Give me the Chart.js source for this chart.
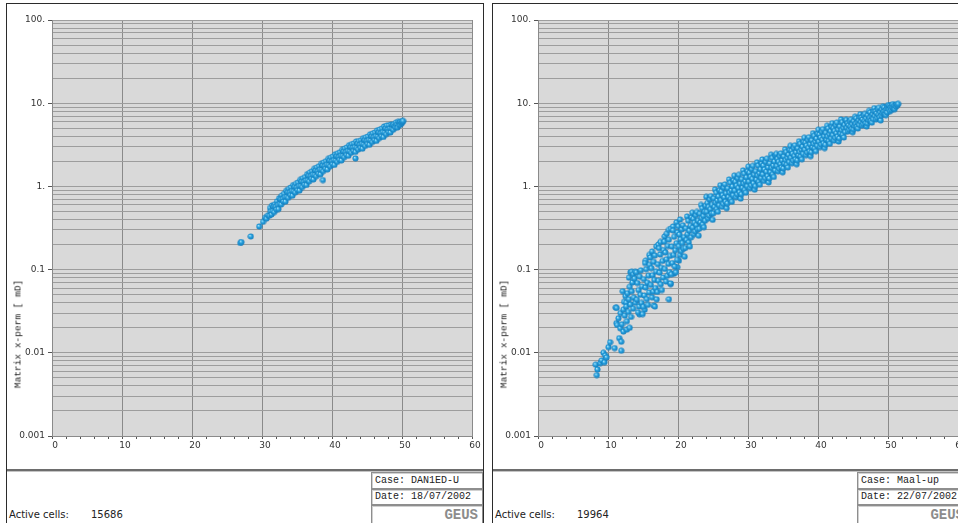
<!DOCTYPE html>
<html><head><meta charset="utf-8">
<script src="https://cdn.jsdelivr.net/npm/chart.js@4.4.0/dist/chart.umd.min.js"></script>
<style>
html,body{margin:0;padding:0;width:958px;height:523px;overflow:hidden;background:#fff;}
.frame{position:absolute;border:1px solid #2b2b2b;box-sizing:border-box;}
.sep{position:absolute;height:2px;background:#6d6d6d;border-bottom:1px solid #c4c4c4;}
.box{position:absolute;box-sizing:border-box;border:1px solid #8e8e8e;box-shadow:inset 1px 1px 0 #d0d0d0;background:#fff;font-family:"Liberation Mono","DejaVu Sans Mono",monospace;font-size:10px;color:#222;white-space:pre;padding-left:3px;}
.geus{position:absolute;right:4px;top:1px;font-family:"Liberation Mono",monospace;font-weight:bold;font-size:14px;line-height:16px;color:#8c8c8c;}
.ytitle{position:absolute;font-family:"Liberation Mono",monospace;font-size:9.5px;color:#222;white-space:pre;transform:translate(-50%,-50%) rotate(-90deg);}
.cells{position:absolute;font-family:"DejaVu Sans",sans-serif;font-size:10px;color:#222;white-space:pre;}
canvas{position:absolute;}
</style></head><body>
<script>
// ---------- data ----------
const xTickLabels = ['0','10','20','30','40','50','60'];
const yDecades = [0.001, 0.01, 0.1, 1, 10, 100];
const yTickLabels = ['0.001', '0.01', '0.1', '1.', '10.', '100.'];
const yAxisTitle = 'Matrix x-perm [ mD]';
const caseNames = ['Case: DAN1ED-U', 'Case: Maal-up'];
const caseDates = ['Date: 18/07/2002', 'Date: 22/07/2002'];
const activeCells = ['15686', '19964'];

const leftPoints = [
[26.9,0.209],[27.05,0.214],[28.4,0.25],[29.6,0.33],[30.15,0.375],[30.45,0.42],[30.65,0.41],[30.85,0.45],
[31.05,0.445],[31.15,0.551],[31.25,0.501],[31.35,0.46],[31.45,0.59],[31.55,0.507],[31.65,0.575],[31.75,0.491],[31.85,0.61],[31.95,0.572],
[32.05,0.53],[32.15,0.66],[32.25,0.6],[32.35,0.535],[32.45,0.72],[32.55,0.615],[32.65,0.705],[32.75,0.607],[32.85,0.777],[32.95,0.71],
[33.05,0.659],[33.15,0.816],[33.25,0.742],[33.35,0.657],[33.45,0.883],[33.55,0.75],[33.65,0.853],[33.75,0.73],[33.85,0.933],[33.95,0.85],
[34.05,0.788],[34.15,0.971],[34.25,0.879],[34.35,0.774],[34.45,1.037],[34.55,0.877],[34.65,0.991],[34.75,0.844],[34.85,1.074],[34.95,0.973],
[35.05,0.899],[35.15,1.112],[35.25,1.008],[35.35,0.891],[35.45,1.196],[35.55,1.014],[35.65,1.148],[35.75,0.981],[35.85,1.252],[35.95,1.137],
[36.05,1.048],[36.15,1.297],[36.25,1.177],[36.35,1.041],[36.45,1.4],[36.55,1.188],[36.65,1.346],[36.75,1.151],[36.85,1.469],[36.95,1.335],
[37.05,1.232],[37.15,1.52],[37.25,1.376],[37.35,1.214],[37.45,1.626],[37.55,1.376],[37.65,1.555],[37.75,1.326],[37.85,1.687],[37.95,1.528],
[38.05,1.418],[38.15,1.749],[38.25,1.583],[38.35,1.396],[38.45,1.871],[38.55,1.583],[38.65,1.789],[38.75,1.526],[38.85,1.941],[38.95,1.758],[38.7,1.19],
[39.05,1.629],[39.15,2.009],[39.25,1.817],[39.35,1.601],[39.45,2.142],[39.55,1.812],[39.65,2.045],[39.75,1.742],[39.85,2.215],[39.95,2.006],
[40.05,1.851],[40.15,2.28],[40.25,2.06],[40.35,1.814],[40.45,2.427],[40.55,2.05],[40.65,2.312],[40.75,1.968],[40.85,2.501],[40.95,2.261],
[41.05,2.084],[41.15,2.572],[41.25,2.328],[41.35,2.053],[41.45,2.751],[41.55,2.328],[41.65,2.63],[41.75,2.243],[41.85,2.854],[41.95,2.587],
[42.05,2.387],[42.15,2.941],[42.25,2.657],[42.35,2.339],[42.45,3.128],[42.55,2.642],[42.65,2.98],[42.75,2.536],[42.85,3.223],[42.95,2.915],
[43.05,2.679],[43.15,3.288],[43.25,2.96],[43.35,2.596],[43.45,3.459],[43.55,2.911],[43.65,3.271],[43.75,2.774],[43.85,3.511],[43.95,3.163],[43.35,2.17],
[44.05,2.914],[44.15,3.584],[44.25,3.234],[44.35,2.843],[44.45,3.797],[44.55,3.204],[44.65,3.608],[44.75,3.066],[44.85,3.891],[44.95,3.514],
[45.05,3.237],[45.15,3.984],[45.25,3.595],[45.35,3.162],[45.45,4.224],[45.55,3.564],[45.65,4.016],[45.75,3.414],[45.85,4.332],[45.95,3.915],
[46.05,3.607],[46.15,4.44],[46.25,4.007],[46.35,3.524],[46.45,4.708],[46.55,3.972],[46.65,4.476],[46.75,3.805],[46.85,4.83],[46.95,4.363],
[47.05,4.023],[47.15,4.952],[47.25,4.469],[47.35,3.93],[47.45,5.251],[47.55,4.431],[47.65,4.993],[47.75,4.244],[47.85,5.387],[47.95,4.867],
[48.05,4.5],[48.15,5.4],[48.25,4.95],[48.35,4.45],[48.45,5.55],[48.55,4.95],[48.65,5.45],[48.75,4.8],[48.85,5.6],[48.95,5.3],
[49.05,5.15],[49.15,5.85],[49.25,5.5],[49.35,5.1],[49.45,5.95],[49.55,5.45],[49.65,5.9],[49.75,5.5],[49.85,6.0],[49.95,5.75],[50.0,5.85],[50.05,6.05],[50.15,6.13]
];

const rightPoints = [
[8.25,0.0072],[8.4,0.0054],[8.5,0.0063],[8.9,0.0075],[9.1,0.0081],[9.35,0.01],[9.5,0.0077],[9.6,0.0093],[9.8,0.0088],[10.07,0.0117],[10.3,0.0134],[10.95,0.0114],
[11.1,0.035],[11.2,0.0227],[11.25,0.0346],[11.3,0.0216],[11.5,0.026],[11.6,0.015],[11.75,0.0197],[11.8,0.03],[11.9,0.0106],[11.9,0.0136],[12.0,0.022],[12.1,0.055],
[12.2,0.033],[12.2,0.018],[12.3,0.041],[12.4,0.028],[12.5,0.048],[12.6,0.04],[12.6,0.036],[12.7,0.019],[12.7,0.024],[12.8,0.052],[12.9,0.031],[13.0,0.044],[13.0,0.08],
[13.1,0.02],[13.1,0.062],[13.2,0.093],[13.2,0.038],[13.3,0.027],[13.4,0.055],[13.4,0.094],[13.5,0.07],[13.6,0.034],[13.6,0.088],[13.7,0.046],[13.8,0.078],[13.9,0.04],[13.9,0.094],
[14.5,0.029],[15.25,0.033],[16.55,0.037],[16.7,0.036],[18.7,0.044],[18.95,0.067],[19.4,0.089],[19.9,0.107],[20.14,0.128],
[15.4,0.128],[15.9,0.15],[16.3,0.165],[16.9,0.19],[17.2,0.2],[17.5,0.215],[18.1,0.25],[18.4,0.27],[18.7,0.3],[19.0,0.31],[19.3,0.33],[19.8,0.37],[20.3,0.4],
[14.04,0.093],[14.12,0.0435],[14.2,0.0689],[14.29,0.0307],[14.37,0.0567],[14.45,0.036],[14.54,0.0822],[14.62,0.0498],[14.7,0.098],[14.79,0.0398],[14.87,0.0625],[14.95,0.0292],
[15.04,0.0358],[15.12,0.0767],[15.2,0.0488],[15.29,0.12],[15.37,0.0611],[15.45,0.101],[15.54,0.0442],[15.62,0.0696],[15.7,0.0377],[15.79,0.0845],[15.87,0.0533],[15.95,0.114],
[16.04,0.14],[16.12,0.0656],[16.2,0.104],[16.29,0.0464],[16.37,0.0856],[16.45,0.0544],[16.54,0.124],[16.62,0.0752],[16.7,0.148],[16.79,0.06],[16.87,0.0944],[16.95,0.044],
[17.04,0.0539],[17.12,0.116],[17.2,0.0735],[17.29,0.181],[17.37,0.0921],[17.45,0.152],[17.54,0.0666],[17.62,0.105],[17.7,0.0568],[17.79,0.127],[17.87,0.0804],[17.95,0.172],
[18.04,0.217],[18.12,0.102],[18.2,0.161],[18.29,0.0719],[18.37,0.133],[18.45,0.0843],[18.54,0.192],[18.62,0.117],[18.7,0.229],[18.79,0.093],[18.87,0.146],[18.95,0.0682],
[19.04,0.088],[19.12,0.189],[19.2,0.12],[19.29,0.296],[19.37,0.15],[19.45,0.248],[19.54,0.109],[19.62,0.171],[19.7,0.0928],[19.79,0.208],[19.87,0.131],[19.95,0.28],
[20.04,0.332],[20.12,0.191],[20.2,0.264],[20.29,0.15],[20.37,0.231],[20.45,0.167],[20.54,0.304],[20.62,0.209],[20.7,0.341],[20.79,0.178],[20.87,0.246],[20.95,0.143],
[21.04,0.182],[21.12,0.314],[21.2,0.227],[21.29,0.434],[21.37,0.266],[21.45,0.386],[21.54,0.213],[21.62,0.294],[21.7,0.19],[21.79,0.336],[21.87,0.244],[21.95,0.423],
[22.04,0.483],[22.12,0.32],[22.2,0.408],[22.29,0.266],[22.37,0.366],[22.45,0.288],[22.54,0.451],[22.62,0.344],[22.7,0.493],[22.79,0.305],[22.87,0.387],[22.95,0.256],
[23.04,0.31],[23.12,0.469],[23.2,0.37],[23.29,0.598],[23.37,0.417],[23.45,0.546],[23.54,0.348],[23.62,0.443],[23.7,0.323],[23.79,0.495],[23.87,0.387],[23.95,0.585],
[24.04,0.748],[24.12,0.495],[24.2,0.633],[24.29,0.413],[24.37,0.567],[24.45,0.446],[24.54,0.699],[24.62,0.534],[24.7,0.765],[24.79,0.473],[24.87,0.6],[24.95,0.396],
[25.04,0.475],[25.12,0.719],[25.2,0.568],[25.29,0.917],[25.37,0.64],[25.45,0.838],[25.54,0.535],[25.62,0.68],[25.7,0.495],[25.79,0.759],[25.87,0.594],[25.95,0.898],
[26.04,1.034],[26.12,0.684],[26.2,0.874],[26.29,0.57],[26.37,0.783],[26.45,0.616],[26.54,0.965],[26.62,0.737],[26.7,1.056],[26.79,0.654],[26.87,0.828],[26.95,0.547],
[27.04,0.626],[27.12,0.948],[27.2,0.748],[27.29,1.209],[27.37,0.844],[27.45,1.105],[27.54,0.705],[27.62,0.896],[27.7,0.653],[27.79,1.0],[27.87,0.783],[27.95,1.183],
[28.04,1.346],[28.12,0.891],[28.2,1.139],[28.29,0.743],[28.37,1.02],[28.45,0.802],[28.54,1.257],[28.62,0.96],[28.7,1.376],[28.79,0.851],[28.87,1.079],[28.95,0.713],
[29.04,0.806],[29.12,1.221],[29.2,0.963],[29.29,1.557],[29.37,1.086],[29.45,1.422],[29.54,0.907],[29.62,1.154],[29.7,0.84],[29.79,1.288],[29.87,1.008],[29.95,1.523],
[30.04,1.727],[30.12,1.143],[30.2,1.461],[30.29,0.953],[30.37,1.308],[30.45,1.029],[30.54,1.613],[30.62,1.232],[30.7,1.765],[30.79,1.092],[30.87,1.384],[30.95,0.914],
[31.04,1.008],[31.12,1.526],[31.2,1.204],[31.29,1.946],[31.37,1.358],[31.45,1.778],[31.54,1.134],[31.62,1.442],[31.7,1.05],[31.79,1.61],[31.87,1.26],[31.95,1.904],
[32.04,2.108],[32.12,1.395],[32.2,1.783],[32.29,1.163],[32.37,1.597],[32.45,1.256],[32.54,1.969],[32.62,1.504],[32.7,2.155],[32.79,1.333],[32.87,1.69],[32.95,1.116],
[33.04,1.246],[33.12,1.886],[33.2,1.488],[33.29,2.405],[33.37,1.678],[33.45,2.197],[33.54,1.401],[33.62,1.782],[33.7,1.298],[33.79,1.99],[33.87,1.557],[33.95,2.353],
[34.04,2.458],[34.12,1.766],[34.2,2.15],[34.29,1.517],[34.37,1.978],[34.45,1.632],[34.54,2.323],[34.62,1.862],[34.7,2.496],[34.79,1.69],[34.87,2.054],[34.95,1.478],
[35.04,1.648],[35.12,2.29],[35.2,1.883],[35.29,2.782],[35.37,2.076],[35.45,2.589],[35.54,1.819],[35.62,2.204],[35.7,1.691],[35.79,2.397],[35.87,1.969],[35.95,2.739],
[36.04,3.072],[36.12,2.208],[36.2,2.688],[36.29,1.896],[36.37,2.472],[36.45,2.04],[36.54,2.904],[36.62,2.328],[36.7,3.12],[36.79,2.112],[36.87,2.568],[36.95,1.848],
[37.04,2.064],[37.12,2.868],[37.2,2.358],[37.29,3.484],[37.37,2.6],[37.45,3.243],[37.54,2.278],[37.62,2.76],[37.7,2.117],[37.79,3.002],[37.87,2.466],[37.95,3.43],
[38.04,3.84],[38.12,2.76],[38.2,3.36],[38.29,2.37],[38.37,3.09],[38.45,2.55],[38.54,3.63],[38.62,2.91],[38.7,3.9],[38.79,2.64],[38.87,3.21],[38.95,2.31],
[39.04,2.58],[39.12,3.585],[39.2,2.948],[39.29,4.355],[39.37,3.25],[39.45,4.054],[39.54,2.848],[39.62,3.451],[39.7,2.647],[39.79,3.752],[39.87,3.082],[39.95,4.288],
[40.04,4.8],[40.12,3.45],[40.2,4.2],[40.29,2.963],[40.37,3.863],[40.45,3.188],[40.54,4.538],[40.62,3.638],[40.7,4.875],[40.79,3.3],[40.87,4.013],[40.95,2.888],
[41.04,3.172],[41.12,4.408],[41.2,3.626],[41.29,5.356],[41.37,3.996],[41.45,4.985],[41.54,3.502],[41.62,4.244],[41.7,3.255],[41.79,4.614],[41.87,3.79],[41.95,5.274],
[42.04,5.76],[42.12,4.14],[42.2,5.04],[42.29,3.555],[42.37,4.635],[42.45,3.825],[42.54,5.445],[42.62,4.365],[42.7,5.85],[42.79,3.96],[42.87,4.815],[42.95,3.465],
[43.04,3.773],[43.12,5.243],[43.2,4.312],[43.29,6.37],[43.37,4.753],[43.45,5.929],[43.54,4.165],[43.62,5.047],[43.7,3.871],[43.79,5.488],[43.87,4.508],[43.95,6.272],
[44.04,6.289],[44.12,5.064],[44.2,5.756],[44.29,4.584],[44.37,5.437],[44.45,4.797],[44.54,6.076],[44.62,5.223],[44.7,6.343],[44.79,4.904],[44.87,5.597],[44.95,4.477],
[45.04,4.855],[45.12,6.069],[45.2,5.318],[45.29,6.878],[45.37,5.664],[45.45,6.589],[45.54,5.202],[45.62,5.896],[45.7,4.971],[45.79,6.242],[45.87,5.491],[45.95,6.82],
[46.04,7.375],[46.12,5.938],[46.2,6.75],[46.29,5.375],[46.37,6.375],[46.45,5.625],[46.54,7.125],[46.62,6.125],[46.7,7.438],[46.79,5.75],[46.87,6.563],[46.95,5.25],
[47.04,5.712],[47.12,7.14],[47.2,6.256],[47.29,8.092],[47.37,6.664],[47.45,7.752],[47.54,6.12],[47.62,6.936],[47.7,5.848],[47.79,7.344],[47.87,6.46],[47.95,8.024],
[48.04,8.732],[48.12,7.03],[48.2,7.992],[48.29,6.364],[48.37,7.548],[48.45,6.66],[48.54,8.436],[48.62,7.252],[48.7,8.806],[48.79,6.808],[48.87,7.77],[48.95,6.216],
[49.04,7.084],[49.12,8.372],[49.2,7.567],[49.29,9.177],[49.37,7.97],[49.45,8.855],[49.54,7.406],[49.62,8.131],[49.7,7.165],[49.79,8.533],[49.87,7.728],[49.95,9.097],
[50.04,9.5],[50.12,8.45],[50.2,9.3],[50.29,8.0],[50.37,8.9],[50.45,8.3],[50.54,9.5],[50.62,8.8],[50.7,9.75],[50.79,8.6],[50.87,9.3],[50.95,8.5],
[51.05,9.4],[51.15,9.1],[51.25,9.7],[51.35,9.5],[51.45,9.8]
];

// ---------- helpers ----------
const yGrid = [];
for (let d = 0; d < yDecades.length - 1; d++) {
  for (let k = 1; k <= 9; k++) yGrid.push(+(k * yDecades[d]).toPrecision(6));
}
yGrid.push(yDecades[yDecades.length - 1]);

function decadeIndex(v) {
  for (let i = 0; i < yDecades.length; i++) {
    if (Math.abs(v - yDecades[i]) < yDecades[i] * 1e-6) return i;
  }
  return -1;
}

// sphere marker
const sphere = document.createElement('canvas');
sphere.width = 7; sphere.height = 7;
(function () {
  const g = sphere.getContext('2d');
  const grd = g.createRadialGradient(2.6, 2.6, 0.2, 3.5, 3.5, 3.3);
  grd.addColorStop(0, '#a6e2fa');
  grd.addColorStop(0.4, '#2aa3e0');
  grd.addColorStop(1, '#0e76b6');
  g.fillStyle = grd;
  g.beginPath(); g.arc(3.5, 3.5, 3.0, 0, Math.PI * 2); g.fill();
})();

const bgPlugin = {
  id: 'plotbg',
  beforeDraw(chart) {
    const a = chart.chartArea, c = chart.ctx;
    c.save(); c.fillStyle = '#d9d9d9';
    c.fillRect(a.left, a.top, a.right - a.left, a.bottom - a.top);
    c.restore();
  }
};

const tickFont = { family: 'DejaVu Sans', size: 9 };

function buildPanel(off, pts, idx) {
  const frame = document.createElement('div');
  frame.className = 'frame';
  Object.assign(frame.style, { left: (6 + off) + 'px', top: '3px', width: '478px', height: '540px' });
  document.body.appendChild(frame);

  const cv = document.createElement('canvas');
  cv.width = 478; cv.height = 467;
  Object.assign(cv.style, { left: (6 + off) + 'px', top: '3px', width: '478px', height: '467px' });
  document.body.appendChild(cv);

  const sep = document.createElement('div');
  sep.className = 'sep';
  Object.assign(sep.style, { left: (7 + off) + 'px', top: '469px', width: '476px' });
  document.body.appendChild(sep);

  const c1 = document.createElement('div');
  c1.className = 'box';
  Object.assign(c1.style, { left: (371 + off) + 'px', top: '472px', width: '112px', height: '17px', lineHeight: '15px' });
  c1.textContent = caseNames[idx];
  document.body.appendChild(c1);

  const c2 = document.createElement('div');
  c2.className = 'box';
  Object.assign(c2.style, { left: (371 + off) + 'px', top: '489px', width: '112px', height: '16px', lineHeight: '14px' });
  c2.textContent = caseDates[idx];
  document.body.appendChild(c2);

  const c3 = document.createElement('div');
  c3.className = 'box';
  Object.assign(c3.style, { left: (371 + off) + 'px', top: '505px', width: '112px', height: '30px' });
  const g = document.createElement('div');
  g.className = 'geus'; g.textContent = 'GEUS';
  c3.appendChild(g);
  document.body.appendChild(c3);

  const yt = document.createElement('div');
  yt.className = 'ytitle';
  Object.assign(yt.style, { left: (17.5 + off) + 'px', top: '334px' });
  yt.textContent = yAxisTitle;
  document.body.appendChild(yt);

  const ac = document.createElement('div');
  ac.className = 'cells';
  Object.assign(ac.style, { left: (9 + off) + 'px', top: '509px' });
  ac.textContent = 'Active cells:';
  document.body.appendChild(ac);
  const an = document.createElement('div');
  an.className = 'cells';
  Object.assign(an.style, { left: (91 + off) + 'px', top: '509px' });
  an.textContent = activeCells[idx];
  document.body.appendChild(an);

  new Chart(cv.getContext('2d'), {
    type: 'scatter',
    data: {
      datasets: [{
        data: pts.map(p => ({ x: p[0], y: p[1] })),
        pointStyle: sphere,
        pointRadius: 3,
        pointHoverRadius: 3
      }]
    },
    options: {
      responsive: false,
      animation: false,
      events: [],
      layout: { padding: { top: 17, right: 12, left: 0, bottom: 0 } },
      plugins: { legend: { display: false }, tooltip: { enabled: false } },
      scales: {
        x: {
          type: 'linear', min: 0, max: 60,
          afterFit: s => { s.height = 34; },
          ticks: {
            stepSize: 2, autoSkip: false, maxRotation: 0,
            callback: v => (v % 10 === 0 ? xTickLabels[v / 10] : ''),
            font: tickFont, color: '#333', padding: 1, labelOffset: 3
          },
          grid: {
            color: c => (c.tick && c.tick.value % 10 === 0 ? '#8a8a8a' : 'rgba(0,0,0,0)'),
            tickColor: '#555', tickLength: 3, lineWidth: 1
          },
          border: { color: '#8a8a8a' }
        },
        y: {
          type: 'logarithmic', min: 0.001, max: 100,
          afterFit: s => { s.width = 46; },
          afterBuildTicks: s => { s.ticks = yGrid.map(v => ({ value: v })); },
          ticks: {
            autoSkip: false,
            callback: v => { const i = decadeIndex(v); return i >= 0 ? yTickLabels[i] : ''; },
            font: tickFont, color: '#333', padding: 3
          },
          grid: {
            color: '#9d9d9d',
            tickColor: c => (c.tick && decadeIndex(c.tick.value) >= 0 ? '#555' : 'rgba(0,0,0,0)'),
            tickLength: 4
          },
          border: { color: '#8a8a8a' }
        }
      }
    },
    plugins: [bgPlugin]
  });
}

buildPanel(0, leftPoints, 0);
buildPanel(486, rightPoints, 1);
</script>
</body></html>
